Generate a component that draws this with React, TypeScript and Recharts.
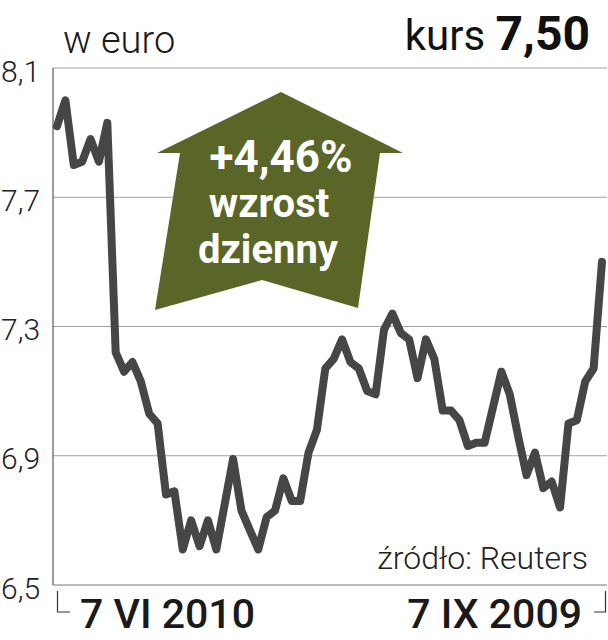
import React from "react";
import { LineChart, Line, XAxis, YAxis, CartesianGrid } from "recharts";

const kursValues: number[] = [
  7.92, 8.0, 7.8, 7.81, 7.88, 7.81, 7.93, 7.22, 7.16, 7.19,
  7.13, 7.03, 7.0, 6.78, 6.79, 6.61, 6.7, 6.62, 6.7, 6.61,
  6.75, 6.89, 6.73, 6.67, 6.61, 6.71, 6.73, 6.83, 6.76, 6.76,
  6.91, 6.98, 7.17, 7.2, 7.26, 7.19, 7.17, 7.1, 7.09, 7.29,
  7.34, 7.28, 7.26, 7.14, 7.26, 7.2, 7.04, 7.04, 7.01, 6.93,
  6.94, 6.94, 7.05, 7.16, 7.09, 6.96, 6.84, 6.91, 6.8, 6.82,
  6.74, 7.0, 7.01, 7.13, 7.17, 7.5,
];

const yTicks: number[] = [6.5, 6.9, 7.3, 7.7, 8.1];
const xTickIndices: number[] = [0, kursValues.length - 1];
const xTickLabels: string[] = ["7 VI 2010", "7 IX 2009"];

const titleText = "w euro";
const kursLabel = "kurs";
const kursValueText = "7,50";
const changeText = "+4,46%";
const changeLine2 = "wzrost";
const changeLine3 = "dzienny";
const sourceText = "źródło: Reuters";

const data = kursValues.map((v, i) => ({ idx: i, kurs: v }));

const FONT = "Roboto, 'Liberation Sans', Arial, sans-serif";
const LINE_COLOR = "#464646";
const GRID_COLOR = "#a3a3a3";
const OLIVE = "#5a6628";

const YTick = (props: any) => {
  const { x, y, payload } = props;
  const label = String(payload.value.toFixed(1)).replace(".", ",");
  return (
    <text
      x={x - 52}
      y={y + 3}
      textAnchor="start"
      dominantBaseline="central"
      fontFamily={FONT}
      fontWeight={300}
      fontSize={30}
      fill="#222"
    >
      {label}
    </text>
  );
};

const XTick = (props: any) => {
  const { x, y, payload } = props;
  const pos = xTickIndices.indexOf(payload.value);
  if (pos < 0) return null;
  const label = xTickLabels[pos];
  if (pos === 0) {
    return (
      <g>
        <path
          d={`M${x + 0.5} ${y + 6} V${y + 27} H${x + 13}`}
          stroke="#333"
          strokeWidth={1.2}
          fill="none"
        />
        <text
          x={x + 23}
          y={y + 43}
          textAnchor="start"
          fontFamily={FONT}
          fontWeight={500}
          fontSize={41}
          fill="#1a1a1a"
        >
          {label}
        </text>
      </g>
    );
  }
  return (
    <g>
      <path
        d={`M${x - 8} ${y + 27} H${x + 3.5} V${y + 6}`}
        stroke="#333"
        strokeWidth={1.2}
        fill="none"
      />
      <text
        x={x - 20}
        y={y + 43}
        textAnchor="end"
        fontFamily={FONT}
        fontWeight={500}
        fontSize={41}
        fill="#1a1a1a"
      >
        {label}
      </text>
    </g>
  );
};

export default function App() {
  return (
    <div
      style={{
        position: "absolute",
        left: 0,
        top: 0,
        width: 608,
        height: 640,
        background: "#fff",
      }}
    >
      <LineChart
        width={608}
        height={640}
        data={data}
        margin={{ top: 68, right: 1, bottom: 0, left: 0 }}
      >
        <CartesianGrid
          vertical={false}
          stroke={GRID_COLOR}
          strokeWidth={1.2}
        />
        <XAxis
          dataKey="idx"
          type="category"
          ticks={xTickIndices}
          interval={0}
          height={55}
          padding={{ left: 4, right: 5 }}
          tickLine={false}
          tickSize={0}
          tickMargin={0}
          axisLine={{ stroke: GRID_COLOR, strokeWidth: 1.2 }}
          tick={<XTick />}
        />
        <YAxis
          domain={[6.5, 8.1]}
          ticks={yTicks}
          type="number"
          width={53}
          tickLine={false}
          tickSize={0}
          tickMargin={0}
          axisLine={{ stroke: "#3a3a3a", strokeWidth: 1 }}
          tick={<YTick />}
          allowDataOverflow
        />
        <Line
          type="linear"
          dataKey="kurs"
          stroke={LINE_COLOR}
          strokeWidth={8}
          strokeLinejoin="round"
          strokeLinecap="round"
          dot={false}
          activeDot={false}
          isAnimationActive={false}
        />
      </LineChart>
      <svg
        width={608}
        height={640}
        style={{ position: "absolute", left: 0, top: 0, pointerEvents: "none" }}
      >
        <text
          x={63}
          y={53}
          fontFamily={FONT}
          fontWeight={300}
          fontSize={38}
          fill="#1a1a1a"
        >
          {titleText}
        </text>
        <text x={590} y={50} textAnchor="end" fontFamily={FONT} fill="#111">
          <tspan fontSize={42} fontWeight={400}>
            {kursLabel}{" "}
          </tspan>
          <tspan fontSize={48} fontWeight={700}>
            {kursValueText}
          </tspan>
        </text>
        <polygon
          points="281,92 403,153 380,153 358,308 262,280 155,310 180,153 157,153"
          fill={OLIVE}
        />
        <text
          x={281}
          y={172}
          textAnchor="middle"
          fontFamily={FONT}
          fontWeight={700}
          fontSize={44}
          fill="#fff"
        >
          {changeText}
        </text>
        <text
          x={269}
          y={217}
          textAnchor="middle"
          fontFamily={FONT}
          fontWeight={700}
          fontSize={40}
          fill="#fff"
        >
          {changeLine2}
        </text>
        <text
          x={268}
          y={263}
          textAnchor="middle"
          fontFamily={FONT}
          fontWeight={700}
          fontSize={40}
          fill="#fff"
        >
          {changeLine3}
        </text>
        <text
          x={588}
          y={569}
          textAnchor="end"
          fontFamily={FONT}
          fontWeight={300}
          fontSize={32}
          fill="#222"
        >
          {sourceText}
        </text>
      </svg>
    </div>
  );
}
